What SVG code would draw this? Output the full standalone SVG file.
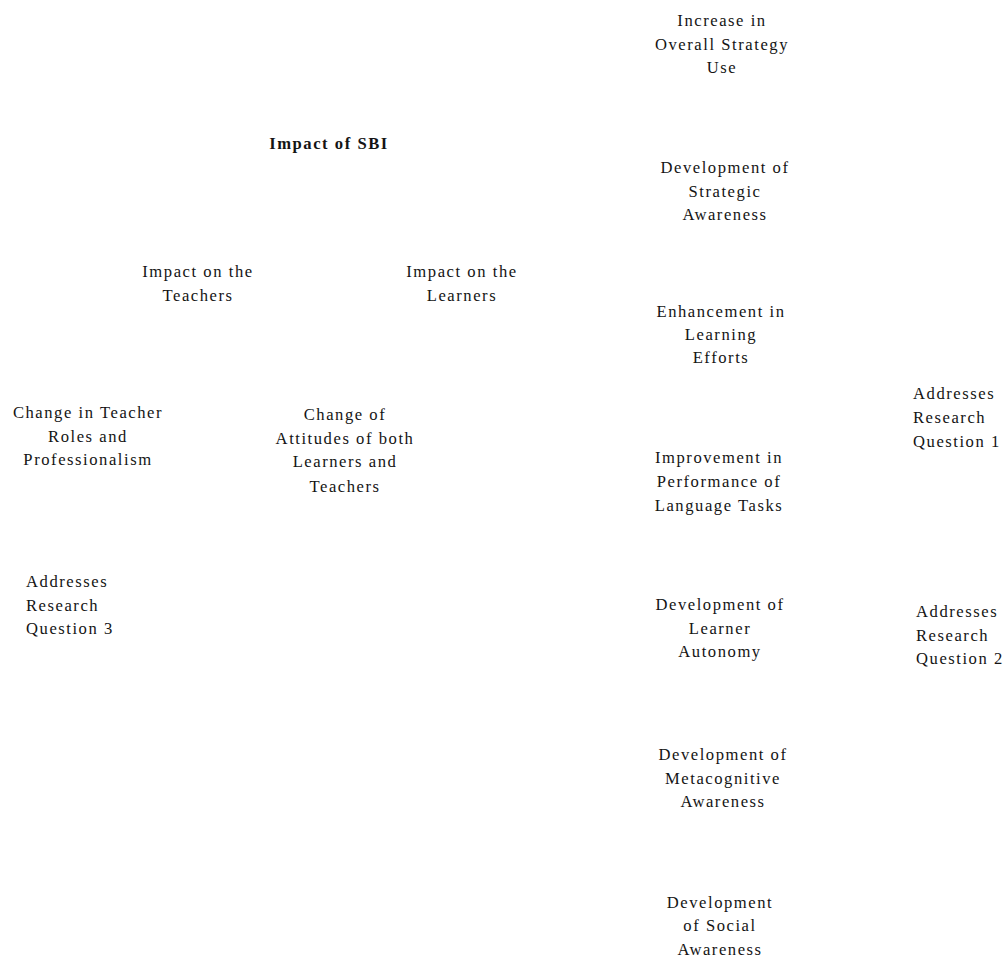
<svg xmlns="http://www.w3.org/2000/svg" width="1006" height="957" viewBox="0 0 1006 957">
<style>
text{font-family:"Liberation Serif","Times New Roman",serif;font-size:16.6px;fill:#141414;letter-spacing:1.55px}
.c{text-anchor:middle}
.b{font-weight:bold}
</style>
<rect width="1006" height="957" fill="#fff"/>
<g id="connectors"></g>
<g id="n-sbi"><text class="c b" x="329" y="149">Impact of SBI</text></g>
<g id="n-teachers"><text class="c" x="198" y="277">Impact on the</text><text class="c" x="198" y="301">Teachers</text></g>
<g id="n-learners"><text class="c" x="462" y="277">Impact on the</text><text class="c" x="462" y="301">Learners</text></g>
<g id="n-increase"><text class="c" x="722" y="26">Increase in</text><text class="c" x="722" y="50">Overall Strategy</text><text class="c" x="722" y="73">Use</text></g>
<g id="n-strategic"><text class="c" x="725" y="173">Development of</text><text class="c" x="725" y="197">Strategic</text><text class="c" x="725" y="220">Awareness</text></g>
<g id="n-effort"><text class="c" x="721" y="317">Enhancement in</text><text class="c" x="721" y="340">Learning</text><text class="c" x="721" y="363">Efforts</text></g>
<g id="n-performance"><text class="c" x="719" y="463">Improvement in</text><text class="c" x="719" y="487">Performance of</text><text class="c" x="719" y="511">Language Tasks</text></g>
<g id="n-autonomy"><text class="c" x="720" y="610">Development of</text><text class="c" x="720" y="634">Learner</text><text class="c" x="720" y="657">Autonomy</text></g>
<g id="n-metacog"><text class="c" x="723" y="760">Development of</text><text class="c" x="723" y="784">Metacognitive</text><text class="c" x="723" y="807">Awareness</text></g>
<g id="n-social"><text class="c" x="720" y="908">Development</text><text class="c" x="720" y="931">of Social</text><text class="c" x="720" y="955">Awareness</text></g>
<g id="n-rq1"><text x="913" y="399">Addresses</text><text x="913" y="423">Research</text><text x="913" y="447">Question  1</text></g>
<g id="n-rq2"><text x="916" y="617">Addresses</text><text x="916" y="641">Research</text><text x="916" y="664">Question 2</text></g>
<g id="n-roles"><text class="c" x="88" y="418">Change in Teacher</text><text class="c" x="88" y="442">Roles and</text><text class="c" x="88" y="465">Professionalism</text></g>
<g id="n-attitudes"><text class="c" x="345" y="420">Change of</text><text class="c" x="345" y="444">Attitudes of both</text><text class="c" x="345" y="467">Learners and</text><text class="c" x="345" y="492">Teachers</text></g>
<g id="n-rq3"><text x="26" y="587">Addresses</text><text x="26" y="611">Research</text><text x="26" y="634">Question 3</text></g>
</svg>
